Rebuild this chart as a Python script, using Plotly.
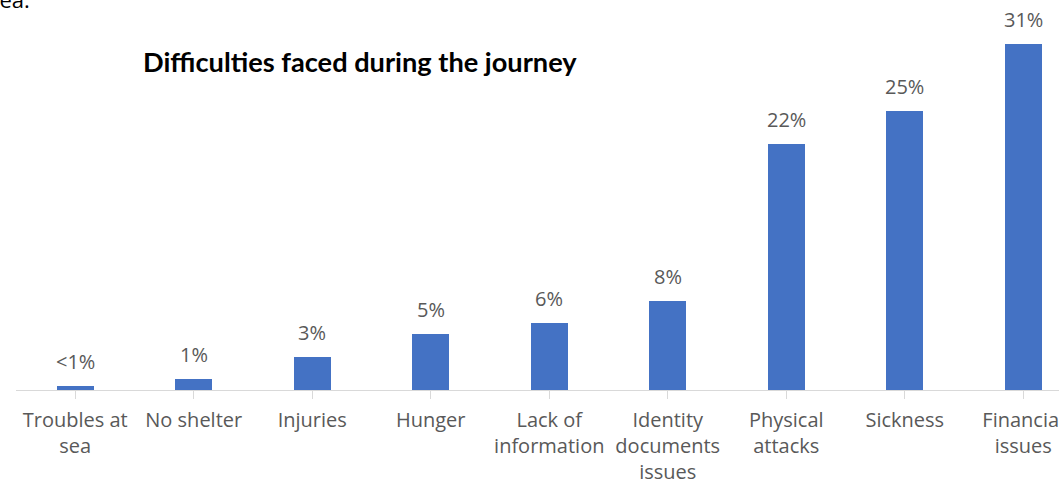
import plotly.graph_objects as go

# Share of respondents reporting each difficulty (%)
categories = [
    "Troubles at<br>sea", "No shelter", "Injuries", "Hunger",
    "Lack of<br>information", "Identity<br>documents<br>issues",
    "Physical<br>attacks", "Sickness", "Financial<br>issues",
]
values = [0.4, 1, 3, 5, 6, 8, 22, 25, 31]
value_labels = ["<1%", "1%", "3%", "5%", "6%", "8%", "22%", "25%", "31%"]

W, H = 1059, 487
BAR_BLUE = "#4472C4"
TEXT_GRAY = "#595959"
AXIS_GRAY = "#D9D9D9"
LABEL_FONT = "Open Sans"
TITLE_FONT = "Lato"
CAT_PITCH = 118.5   # pixels per category slot
PX_PER_PCT = 11.16  # pixels per percentage point

x_idx = list(range(len(categories)))

fig = go.Figure()
fig.add_trace(go.Bar(
    x=x_idx, y=values, width=0.315,
    marker=dict(color=BAR_BLUE, line=dict(width=0)),
    hoverinfo="skip",
))

# value labels above each bar
for xi, v, lab in zip(x_idx, values, value_labels):
    fig.add_annotation(
        x=xi, y=v, xref="x", yref="y", text=lab, showarrow=False,
        yanchor="bottom", yshift=9,
        font=dict(family=LABEL_FONT, size=20, color=TEXT_GRAY),
    )

# chart title
fig.add_annotation(
    x=141, y=62, xref="paper", yref="paper", text="<b>Difficulties faced during the journey</b>",
    showarrow=False, xanchor="left", yanchor="middle",
    font=dict(family=TITLE_FONT, size=27.2, color="#000000"),
)

# tail of the preceding sentence
fig.add_annotation(
    x=32, y=16, xref="paper", yref="paper", text="sea.",
    showarrow=False, xanchor="right", yanchor="bottom",
    font=dict(family=LABEL_FONT, size=22, color="#000000"),
)

# convert pixel-based annotation positions into paper coordinates
ML, MR, MT, MB = 16, 0, 0, 97
pw, ph = W - ML - MR, H - MT - MB
for ann in fig.layout.annotations:
    if ann.xref == "paper":
        ann.x = (ann.x - ML) / pw
        ann.y = 1 - (ann.y - MT) / ph

fig.update_layout(
    width=W, height=H,
    margin=dict(l=ML, r=MR, t=MT, b=MB, pad=0, autoexpand=False),
    paper_bgcolor="white", plot_bgcolor="white",
    showlegend=False,
    bargap=0,
    xaxis=dict(
        range=[-0.5, -0.5 + pw / CAT_PITCH],
        tickmode="array", tickvals=x_idx, ticktext=categories,
        tickson="boundaries", ticks="outside", ticklen=8,
        tickcolor=AXIS_GRAY, tickwidth=1,
        showline=True, linecolor=AXIS_GRAY, linewidth=1,
        showgrid=False, zeroline=False,
        ticklabelstandoff=4,
        ticklabeloverflow="allow",
        automargin=False,
        tickfont=dict(family=LABEL_FONT, size=20, color=TEXT_GRAY),
        fixedrange=True,
    ),
    yaxis=dict(
        range=[0, ph / PX_PER_PCT],
        visible=False, showgrid=False, zeroline=False,
        fixedrange=True,
    ),
)

fig.write_html("out.html")
